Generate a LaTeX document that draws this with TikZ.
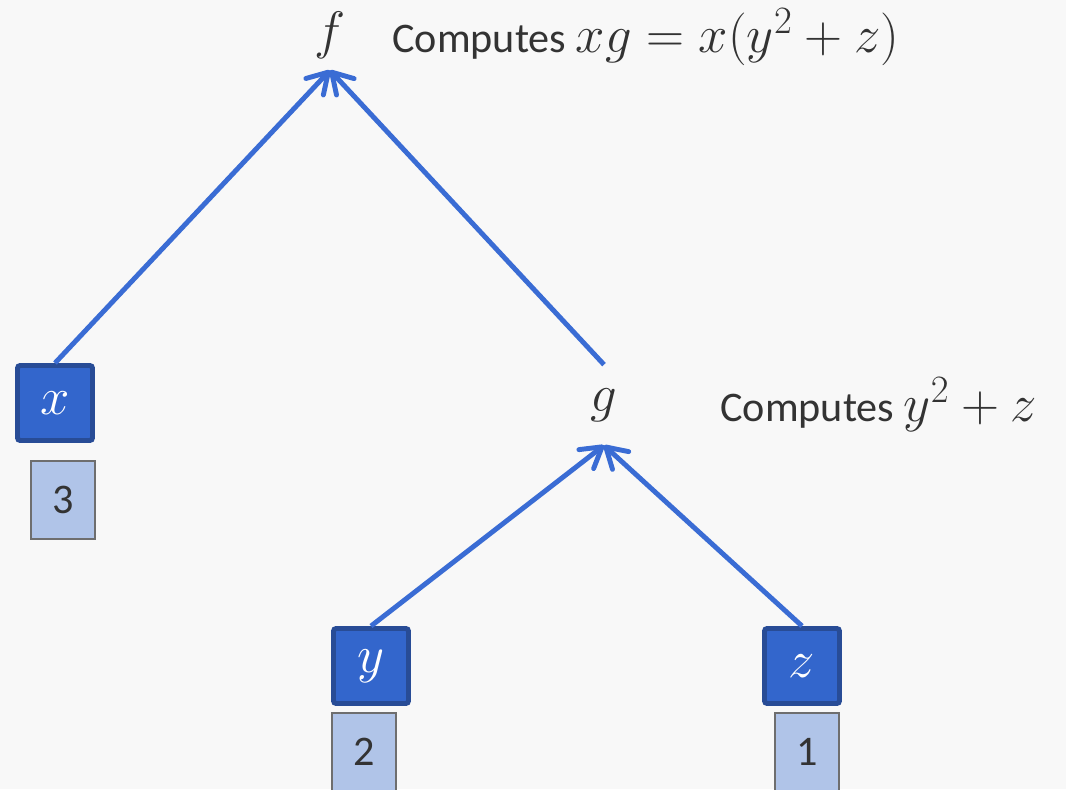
\RequirePackage{fix-cm}
\documentclass[tikz,border=0pt]{standalone}
\usepackage{fontspec}
\setmainfont{Carlito}
\usepackage{tikz}
\usetikzlibrary{arrows.meta,positioning}
\DeclareMathSizes{24}{30}{22}{17}

\definecolor{bgpage}{RGB}{248,248,248}
\definecolor{varfill}{RGB}{51,102,204}
\definecolor{varborder}{RGB}{40,76,150}
\definecolor{valfill}{RGB}{176,196,232}
\definecolor{valborder}{RGB}{110,110,110}
\definecolor{linkblue}{RGB}{58,108,212}
\definecolor{textdark}{RGB}{51,51,51}

\begin{document}
\begin{tikzpicture}[font=\fontsize{24}{28}\selectfont,
  var/.style={draw=varborder,fill=varfill,line width=2.8pt,rounded corners=1.5pt,minimum size=1.5cm,inner sep=0pt,text=white},
  val/.style={draw=valborder,fill=valfill,line width=0.6pt,minimum width=1.28cm,minimum height=1.56cm,inner sep=0pt,text=textdark},
  op/.style={minimum width=0.8cm,inner sep=0pt,text=textdark},
  note/.style={anchor=west,inner sep=0pt,text=textdark},
  link/.style={draw=linkblue,line width=2.8pt,-{Straight Barb[length=4mm,width=4.8mm,round]}}]
  \clip (0,0) rectangle (21.32,15.78);
  \fill[bgpage] (0,0) rectangle (21.32,15.78);
  % operations
  \node[op,minimum height=1.4cm] (f) at (6.6,15.08) {$f$};
  \node[op,minimum height=1.6cm] (g) at (12.08,7.68) {$g$};
  \node[note] (fnote) at (7.84,15.04) {Computes $xg = x(y^2 + z)$};
  \node[note] (gnote) at (14.4,7.68) {Computes $y^2 + z$};
  % inputs and their values
  \node[var] (x) at (1.1,7.72) {$x$};
  \node[var] (y) at (7.42,2.46) {$y$};
  \node[var] (z) at (16.04,2.46) {$z$};
  \node[val] (xval) at (1.26,5.78) {3};
  \node[val] (yval) at (7.28,0.74) {2};
  \node[val] (zval) at (16.14,0.74) {1};
  % edges
  \draw[link] (x.north) -- (f.south);
  \draw[link] (g.north) -- (f.south);
  \draw[link] (y.north) -- (g.south);
  \draw[link] (z.north) -- (g.south);
\end{tikzpicture}
\end{document}
